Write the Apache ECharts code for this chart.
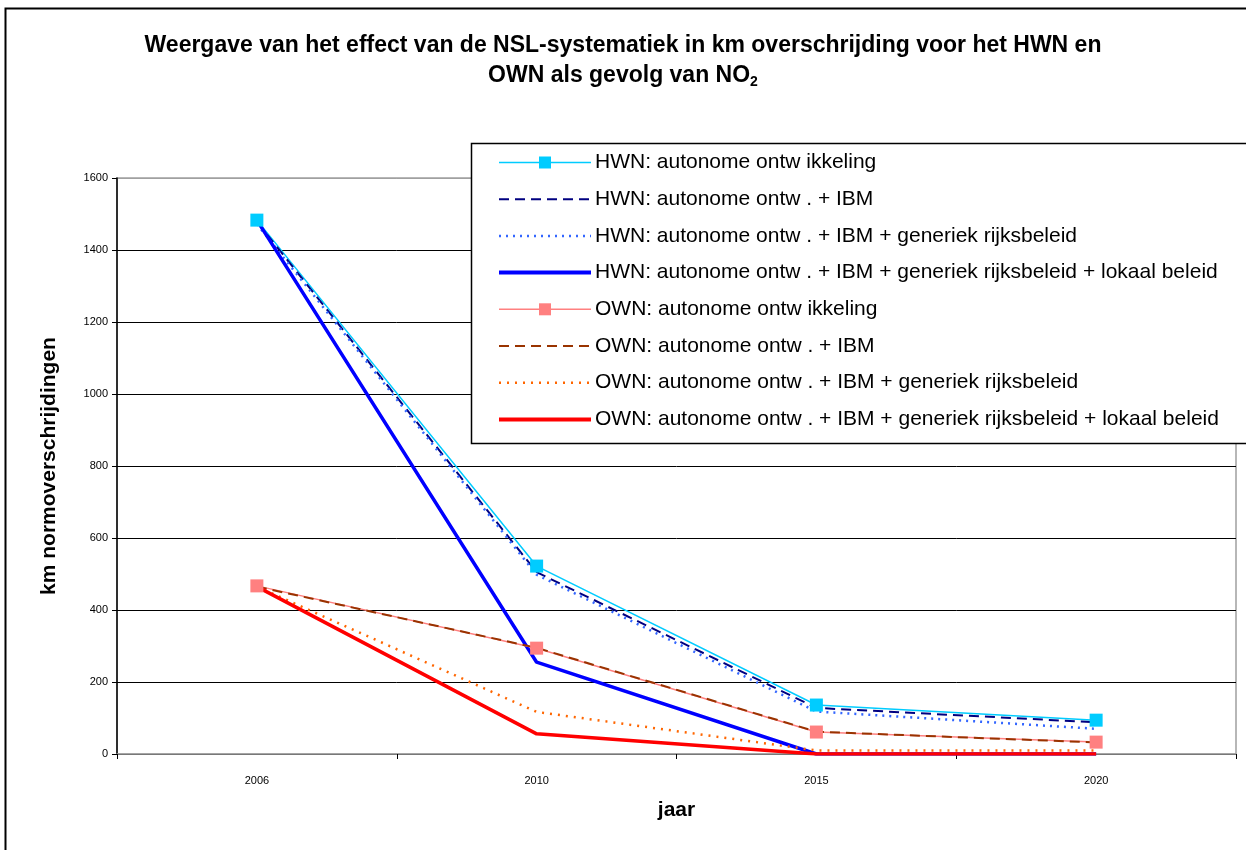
<!DOCTYPE html>
<html>
<head>
<meta charset="utf-8">
<script src="https://cdn.jsdelivr.net/npm/echarts@6/dist/echarts.min.js"></script>
<style>
html,body{margin:0;padding:0;background:#fff;}
#chart{width:1246px;height:850px;}
</style>
</head>
<body>
<div id="chart"></div>
<script>
var categories = ['2006', '2010', '2015', '2020'];

var hwnAutonoom = [1483, 522, 136, 94];
var hwnIBM = [1478, 505, 128, 88];
var hwnGeneriek = [1472, 498, 118, 70];
var hwnLokaal = [1483, 255, 0, 0];

var ownAutonoom = [467, 294, 61, 33];
var ownIBM = [465, 295, 62, 32];
var ownGeneriek = [465, 117, 10, 10];
var ownLokaal = [465, 56, 0, 0];

var seriesNames = [
  'HWN: autonome ontw ikkeling',
  'HWN: autonome ontw . + IBM',
  'HWN: autonome ontw . + IBM + generiek rijksbeleid',
  'HWN: autonome ontw . + IBM + generiek rijksbeleid + lokaal beleid',
  'OWN: autonome ontw ikkeling',
  'OWN: autonome ontw . + IBM',
  'OWN: autonome ontw . + IBM + generiek rijksbeleid',
  'OWN: autonome ontw . + IBM + generiek rijksbeleid + lokaal beleid'
];
var hasMarker = [true, false, false, false, true, false, false, false];
var lineWidths = [1.5, 2, 2.5, 4, 1.5, 2, 2.5, 4];

var FONT = "'Liberation Sans', Arial, sans-serif";

function mk(name, data, color, width, type, marker) {
  return {
    name: name, type: 'line', data: data,
    symbol: marker ? 'rect' : 'none',
    symbolSize: 13,
    showSymbol: !!marker,
    itemStyle: { color: color },
    lineStyle: { color: color, width: width, type: type },
    animation: false
  };
}

var legendData = seriesNames.map(function (n, i) {
  var d = { name: n, lineStyle: { width: lineWidths[i] } };
  if (!hasMarker[i]) d.itemStyle = { opacity: 0 };
  return d;
});

var chart = echarts.init(document.getElementById('chart'), null, { renderer: 'canvas' });
chart.setOption({
  backgroundColor: '#fff',
  animation: false,
  title: {
    text: 'Weergave van het effect van de NSL-systematiek in km overschrijding voor het HWN en\n{n|OWN als gevolg van NO}{s|2}',
    left: 'center',
    top: 26,
    textStyle: {
      fontFamily: FONT, fontSize: 23, fontWeight: 'bold', color: '#000', lineHeight: 30,
      rich: {
        n: { fontFamily: FONT, fontSize: 23, fontWeight: 'bold', color: '#000', lineHeight: 30 },
        s: { fontFamily: FONT, fontSize: 14, fontWeight: 'bold', color: '#000', padding: [12, 0, 0, 0], lineHeight: 30 }
      }
    }
  },
  graphic: [
    { type: 'rect', shape: { x: 5.5, y: 8.5, width: 1400, height: 1000 }, style: { fill: 'none', stroke: '#000', lineWidth: 2 }, z: 0, silent: true },
    { type: 'rect', shape: { x: 471.5, y: 143.5, width: 900, height: 300 }, style: { fill: '#fff', stroke: '#000', lineWidth: 1.5 }, z: 10, silent: true }
  ],
  grid: { left: 117, right: 10, top: 178, bottom: 96, show: true, borderColor: '#a0a0a0', borderWidth: 1.5 },
  legend: {
    orient: 'vertical',
    left: 471, top: 143,
    padding: [7, 10, 8, 26],
    itemWidth: 92, itemHeight: 15, itemGap: 11.7,
    z: 20,
    textStyle: { fontFamily: FONT, fontSize: 21, color: '#000', lineHeight: 25, padding: [0, 0, 0, -1] },
    data: legendData
  },
  xAxis: {
    type: 'category', data: categories, boundaryGap: true,
    name: 'jaar', nameLocation: 'middle', nameGap: 46,
    nameTextStyle: { fontFamily: FONT, fontSize: 21, fontWeight: 'bold', color: '#000' },
    axisLine: { lineStyle: { color: '#a0a0a0', width: 1.5 } },
    axisTick: { show: true, inside: false, length: 5, lineStyle: { color: '#000' } },
    axisLabel: { fontFamily: FONT, fontSize: 11, color: '#000', margin: 21 },
    splitLine: { show: false }
  },
  yAxis: {
    type: 'value', min: 0, max: 1600, interval: 200,
    name: 'km normoverschrijdingen', nameLocation: 'middle', nameGap: 57,
    nameTextStyle: { fontFamily: FONT, fontSize: 21, fontWeight: 'bold', color: '#000' },
    axisLine: { show: true, lineStyle: { color: '#000', width: 1.5 } },
    axisTick: { show: true, length: 5, lineStyle: { color: '#000' } },
    axisLabel: { fontFamily: FONT, fontSize: 11, color: '#000', margin: 9, formatter: function (v) { return String(v); } },
    splitLine: { show: true, lineStyle: { color: ['#000','#000','#000','#000','#000','#000','#000','#000','#a0a0a0'], width: 1 } }
  },
  series: [
    mk(seriesNames[0], hwnAutonoom, '#00CCFF', 1.5, 'solid', true),
    mk(seriesNames[1], hwnIBM, '#000080', 2, [10, 6], false),
    mk(seriesNames[2], hwnGeneriek, '#3366FF', 2.5, [2, 5], false),
    mk(seriesNames[3], hwnLokaal, '#0000FF', 3.5, 'solid', false),
    mk(seriesNames[4], ownAutonoom, '#FF8080', 1.5, 'solid', true),
    mk(seriesNames[5], ownIBM, '#993300', 2, [10, 6], false),
    mk(seriesNames[6], ownGeneriek, '#FF6600', 2.5, [2, 6], false),
    mk(seriesNames[7], ownLokaal, '#FF0000', 3.5, 'solid', false)
  ]
});
</script>
</body>
</html>
